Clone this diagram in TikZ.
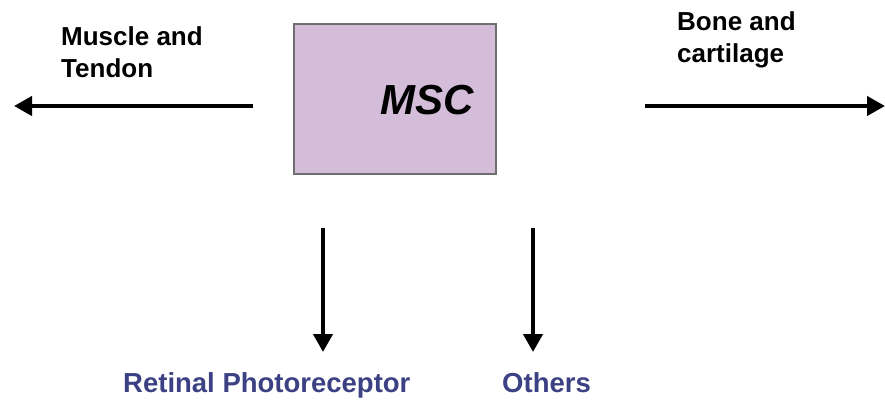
\documentclass[tikz,border=0pt]{standalone}
\usepackage{fontspec}
\setmainfont{Liberation Sans}
\usetikzlibrary{arrows.meta}
\definecolor{boxfill}{HTML}{D4BDD9}
\definecolor{boxline}{HTML}{6E6E6E}
\definecolor{labelblue}{HTML}{3C4183}
\tikzset{
  cellbox/.style={draw=boxline, line width=2pt, fill=boxfill, minimum width=202pt, minimum height=150pt, inner sep=0pt},
  bigarrow/.style={line width=4.2pt, -{Triangle[length=18pt,width=19pt]}},
  sidelabel/.style={align=left, inner sep=0pt, anchor=base west, font=\bfseries\fontsize{26}{32}\selectfont},
  bottomlabel/.style={inner sep=0pt, anchor=base west, text=labelblue, font=\bfseries\fontsize{27.5}{30}\selectfont}
}
\begin{document}
\begin{tikzpicture}[x=1pt,y=-1pt]
\useasboundingbox (0,0) rectangle (885,419);
\node[cellbox] (msc) at (395,99) {};
\node[font=\bfseries\itshape\fontsize{42}{46}\selectfont, inner sep=0pt] (msctext) at (427,100) {MSC};
% left arrow
\coordinate (lstart) at (253,106);
\coordinate (lend) at (14,106);
\draw[bigarrow] (lstart) -- (lend);
\node[sidelabel] (muscle) at (61,78) {Muscle and\\Tendon};
% right arrow
\coordinate (rstart) at (645,106);
\coordinate (rend) at (885,106);
\draw[bigarrow] (rstart) -- (rend);
\node[sidelabel] (bone) at (677,63) {Bone and\\cartilage};
% down arrows
\coordinate (d1start) at (323,228);
\coordinate (d1end) at (323,352);
\draw[bigarrow] (d1start) -- (d1end);
\coordinate (d2start) at (533,228);
\coordinate (d2end) at (533,352);
\draw[bigarrow] (d2start) -- (d2end);
\node[bottomlabel] (retinal) at (123,392) {Retinal Photoreceptor};
\node[bottomlabel] (others) at (502,392) {Others};
\end{tikzpicture}
\end{document}
